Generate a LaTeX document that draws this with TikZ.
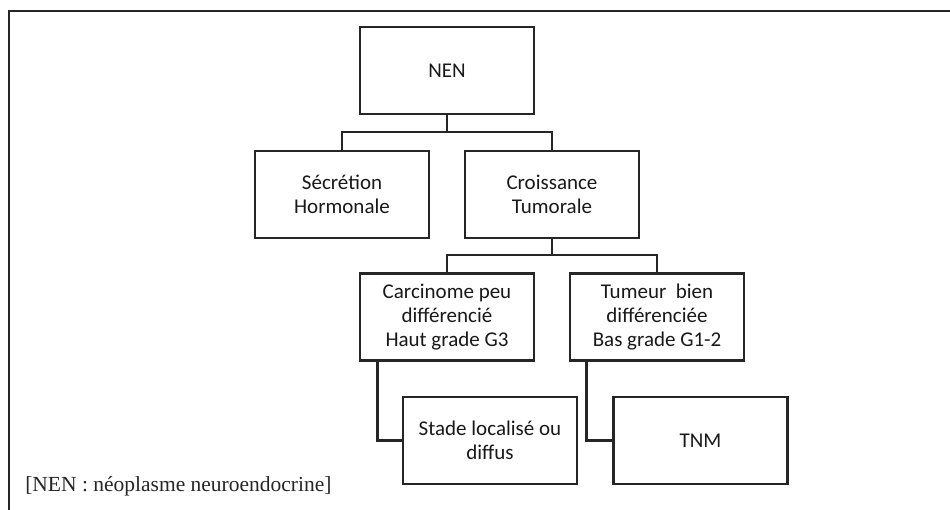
\documentclass[tikz,border=0pt]{standalone}
\usepackage{fontspec}
\setmainfont{Carlito}
\newfontfamily\notefont{Liberation Serif}
\begin{document}
\begin{tikzpicture}[x=1pt,y=-1pt,line width=2.6pt,
  box/.style={draw=black!85,line width=2.6pt,rectangle,minimum width=174pt,minimum height=87pt,inner sep=0pt,align=center,font=\fontsize{21}{24}\selectfont,text=black!90},
  link/.style={draw=black!85,line width=2.6pt}]
\useasboundingbox (0,0) rectangle (950,510);
\fill[white] (0,0) rectangle (950,510);
\draw[black!85,line width=2.4pt] (9,510) -- (9,11) -- (950,11);
\node[box] (nen) at (447,70.5) {NEN};
\node[box] (sec) at (342,194.5) {Sécrétion\\Hormonale};
\node[box] (cro) at (552,194.5) {Croissance\\Tumorale};
\node[box] (car) at (447,317) {Carcinome peu\\différencié\\Haut grade G3};
\node[box] (tum) at (657,317) {Tumeur\ \ bien\\différenciée\\Bas grade G1-2};
\node[box] (sta) at (490,440.5) {Stade localisé ou\\diffus};
\node[box] (tnm) at (700.5,440.5) {TNM};
\coordinate (j1) at (447,132);
\coordinate (j2) at (552,255);
\draw[link] (nen.south) -- (j1);
\draw[link] (sec.north) |- (j1) -| (cro.north);
\draw[link] (cro.south) -- (j2);
\draw[link] (car.north) |- (j2) -| (tum.north);
\draw[link] ([xshift=19pt]car.south west) |- (sta.west);
\draw[link] ([xshift=18pt]tum.south west) |- (tnm.west);
\node[anchor=base west,inner sep=0pt,font=\notefont\fontsize{21.5}{24}\selectfont,text=black!85] (note) at (24,491) {[NEN : néoplasme neuroendocrine]};
\end{tikzpicture}
\end{document}
